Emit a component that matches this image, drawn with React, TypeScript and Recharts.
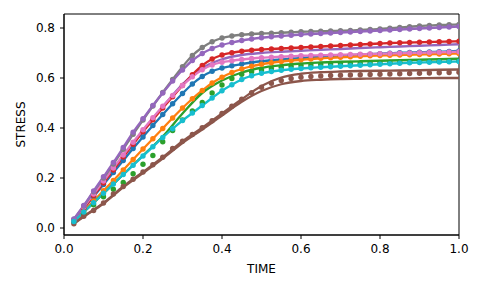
import React from 'react';
import { LineChart, Line, XAxis, YAxis, ReferenceArea } from 'recharts';

// sample times (dots) and coarser times for the fitted-only lines
const TIME = [
  0.025, 0.05, 0.075, 0.1, 0.125, 0.15, 0.175, 0.2, 0.225, 0.25,
  0.275, 0.3, 0.325, 0.35, 0.375, 0.4, 0.425, 0.45, 0.475, 0.5,
  0.525, 0.55, 0.575, 0.6, 0.625, 0.65, 0.675, 0.7, 0.725, 0.75,
  0.775, 0.8, 0.825, 0.85, 0.875, 0.9, 0.925, 0.95, 0.975, 1.0,
];
const FIT_TIME = [
  0.025, 0.05, 0.1, 0.15, 0.2, 0.25, 0.3, 0.35, 0.4, 0.45, 0.5,
  0.55, 0.6, 0.65, 0.7, 0.75, 0.8, 0.85, 0.9, 0.95, 1.0,
];

const BLUE = [
  0.03, 0.078, 0.126, 0.174, 0.222, 0.27, 0.318, 0.364, 0.41, 0.454,
  0.497, 0.538, 0.576, 0.606, 0.627, 0.64, 0.649, 0.656, 0.662, 0.667,
  0.671, 0.674, 0.677, 0.68, 0.683, 0.685, 0.687, 0.689, 0.691, 0.693,
  0.695, 0.697, 0.699, 0.701, 0.702, 0.703, 0.704, 0.705, 0.706, 0.708,
];
const ORANGE = [
  0.028, 0.068, 0.108, 0.149, 0.19, 0.232, 0.274, 0.316, 0.357, 0.398,
  0.44, 0.48, 0.517, 0.55, 0.58, 0.603, 0.622, 0.636, 0.647, 0.655,
  0.661, 0.666, 0.67, 0.673, 0.676, 0.679, 0.681, 0.683, 0.685, 0.687,
  0.689, 0.69, 0.691, 0.692, 0.693, 0.694, 0.695, 0.696, 0.697, 0.698,
];
const GREEN = [
  0.025, 0.058, 0.093, 0.125, 0.155, 0.182, 0.217, 0.255, 0.29, 0.345,
  0.39, 0.432, 0.468, 0.502, 0.54, 0.572, 0.598, 0.615, 0.625, 0.632,
  0.638, 0.643, 0.647, 0.65, 0.652, 0.654, 0.656, 0.657, 0.658, 0.659,
  0.66, 0.661, 0.662, 0.663, 0.664, 0.665, 0.666, 0.667, 0.668, 0.669,
];
const GREEN_FIT = [
  0.027, 0.064, 0.138, 0.214, 0.29, 0.366, 0.458, 0.54, 0.59, 0.622, 0.641,
  0.651, 0.658, 0.662, 0.665, 0.667, 0.669, 0.671, 0.673, 0.675, 0.677,
];
const RED = [
  0.03, 0.08, 0.13, 0.18, 0.232, 0.284, 0.335, 0.385, 0.433, 0.48,
  0.525, 0.57, 0.613, 0.65, 0.676, 0.692, 0.701, 0.707, 0.711, 0.714,
  0.716, 0.718, 0.72, 0.722, 0.724, 0.726, 0.728, 0.73, 0.732, 0.734,
  0.736, 0.738, 0.74, 0.741, 0.742, 0.743, 0.744, 0.745, 0.746, 0.747,
];
const PURPLE = [
  0.036, 0.09, 0.148, 0.205, 0.262, 0.322, 0.383, 0.437, 0.49, 0.54,
  0.588, 0.632, 0.67, 0.698, 0.718, 0.732, 0.742, 0.75, 0.756, 0.761,
  0.765, 0.768, 0.771, 0.774, 0.776, 0.778, 0.78, 0.782, 0.784, 0.786,
  0.788, 0.79, 0.792, 0.794, 0.796, 0.798, 0.8, 0.802, 0.804, 0.806,
];
const PURPLE_FIT = [
  0.032, 0.082, 0.183, 0.288, 0.39, 0.485, 0.575, 0.64, 0.675, 0.692, 0.7,
  0.705, 0.709, 0.713, 0.716, 0.72, 0.723, 0.726, 0.729, 0.732, 0.735,
];
const BROWN = [
  0.017, 0.047, 0.07, 0.1, 0.136, 0.166, 0.195, 0.224, 0.253, 0.283,
  0.318, 0.347, 0.374, 0.401, 0.429, 0.458, 0.487, 0.515, 0.541, 0.563,
  0.579, 0.59, 0.598, 0.603, 0.606, 0.608, 0.61, 0.611, 0.612, 0.613,
  0.614, 0.615, 0.616, 0.617, 0.618, 0.619, 0.62, 0.621, 0.622, 0.623,
];
const BROWN_UPPER = [
  0.02, 0.047, 0.1, 0.166, 0.224, 0.283, 0.347, 0.401, 0.458, 0.515, 0.568,
  0.602, 0.617, 0.623, 0.626, 0.628, 0.629, 0.63, 0.631, 0.633, 0.634,
];
const BROWN_LOWER = [
  0.017, 0.045, 0.098, 0.163, 0.22, 0.278, 0.34, 0.394, 0.45, 0.505, 0.548,
  0.575, 0.588, 0.593, 0.596, 0.597, 0.598, 0.598, 0.599, 0.6, 0.6,
];
const PINK = [
  0.032, 0.084, 0.136, 0.188, 0.24, 0.292, 0.343, 0.393, 0.441, 0.487,
  0.53, 0.57, 0.605, 0.633, 0.652, 0.663, 0.669, 0.674, 0.678, 0.681,
  0.683, 0.685, 0.687, 0.689, 0.69, 0.691, 0.692, 0.693, 0.694, 0.695,
  0.696, 0.697, 0.698, 0.699, 0.7, 0.701, 0.702, 0.703, 0.704, 0.705,
];
const GRAY = [
  0.034, 0.088, 0.145, 0.2, 0.256, 0.315, 0.375, 0.432, 0.488, 0.542,
  0.594, 0.645, 0.69, 0.722, 0.745, 0.76, 0.768, 0.773, 0.776, 0.778,
  0.779, 0.781, 0.783, 0.785, 0.786, 0.787, 0.788, 0.789, 0.79, 0.792,
  0.794, 0.796, 0.799, 0.802, 0.805, 0.808, 0.81, 0.812, 0.813, 0.814,
];
const CYAN = [
  0.026, 0.064, 0.101, 0.139, 0.176, 0.214, 0.251, 0.288, 0.325, 0.362,
  0.397, 0.43, 0.46, 0.49, 0.52, 0.549, 0.573, 0.594, 0.609, 0.619,
  0.626, 0.631, 0.635, 0.638, 0.641, 0.643, 0.645, 0.647, 0.649, 0.651,
  0.653, 0.655, 0.657, 0.659, 0.661, 0.662, 0.663, 0.664, 0.665, 0.666,
];

const X_TICKS = [0, 0.2, 0.4, 0.6, 0.8, 1.0];
const Y_TICKS = [0, 0.2, 0.4, 0.6, 0.8];

const toPoints = (xs: number[], ys: number[]) => xs.map((t, i) => ({ time: t, stress: ys[i] }));

// kind: 'both' = line + dots, 'dots' = markers only, 'line' = fitted line only
const SERIES = [
  { name: 'blue', color: '#1f77b4', xs: TIME, ys: BLUE, kind: 'both' },
  { name: 'orange', color: '#ff7f0e', xs: TIME, ys: ORANGE, kind: 'both' },
  { name: 'greenFit', color: '#2ca02c', xs: FIT_TIME, ys: GREEN_FIT, kind: 'line' },
  { name: 'green', color: '#2ca02c', xs: TIME, ys: GREEN, kind: 'dots' },
  { name: 'purpleFit', color: '#9467bd', xs: FIT_TIME, ys: PURPLE_FIT, kind: 'line' },
  { name: 'red', color: '#d62728', xs: TIME, ys: RED, kind: 'both' },
  { name: 'brownUpper', color: '#8c564b', xs: FIT_TIME, ys: BROWN_UPPER, kind: 'line' },
  { name: 'brownLower', color: '#8c564b', xs: FIT_TIME, ys: BROWN_LOWER, kind: 'line' },
  { name: 'brown', color: '#8c564b', xs: TIME, ys: BROWN, kind: 'dots' },
  { name: 'pink', color: '#e377c2', xs: TIME, ys: PINK, kind: 'both' },
  { name: 'gray', color: '#7f7f7f', xs: TIME, ys: GRAY, kind: 'both' },
  { name: 'purple', color: '#9467bd', xs: TIME, ys: PURPLE, kind: 'both' },
  { name: 'cyan', color: '#17becf', xs: TIME, ys: CYAN, kind: 'both' },
];

const FONT = 'DejaVu Sans';
const tickStyle = { fontSize: 12, fill: '#000', fontFamily: FONT };

export default function App() {
  return (
    <div style={{ position: 'absolute', left: 0, top: 0, background: '#fff' }}>
      <LineChart width={485} height={291} margin={{ top: 14, right: 26, bottom: 16, left: 0 }}>
        <XAxis
          dataKey="time"
          type="number"
          domain={[0, 1]}
          ticks={X_TICKS}
          tickFormatter={(v: number) => v.toFixed(1)}
          height={40}
          tick={tickStyle}
          tickSize={4}
          tickMargin={5}
          tickLine={{ stroke: '#000' }}
          axisLine={{ stroke: '#000' }}
          allowDataOverflow
          label={{ value: 'TIME', position: 'insideBottom', offset: 2, fontSize: 12, fill: '#000', fontFamily: FONT }}
        />
        <YAxis
          type="number"
          domain={[-0.028, 0.856]}
          ticks={Y_TICKS}
          tickFormatter={(v: number) => v.toFixed(1)}
          width={64}
          tick={tickStyle}
          tickSize={4}
          tickMargin={5}
          tickLine={{ stroke: '#000' }}
          axisLine={{ stroke: '#000' }}
          allowDataOverflow
          label={{
            value: 'STRESS',
            angle: -90,
            position: 'insideLeft',
            offset: 21,
            textAnchor: 'middle',
            style: { textAnchor: 'middle' },
            fontSize: 12,
            fill: '#000',
            fontFamily: FONT,
          }}
        />
        {SERIES.map((s) => (
          <Line
            key={s.name}
            data={toPoints(s.xs, s.ys)}
            dataKey="stress"
            type="monotone"
            stroke={s.kind === 'dots' ? 'none' : s.color}
            strokeWidth={2.3}
            dot={s.kind === 'line' ? false : { r: 2.7, fill: s.color, stroke: 'none', strokeWidth: 0 }}
            activeDot={false}
            isAnimationActive={false}
          />
        ))}
        <ReferenceArea
          x1={0}
          x2={1}
          y1={-0.028}
          y2={0.856}
          fill="none"
          stroke="#000"
          strokeWidth={1}
          ifOverflow="visible"
        />
      </LineChart>
    </div>
  );
}
